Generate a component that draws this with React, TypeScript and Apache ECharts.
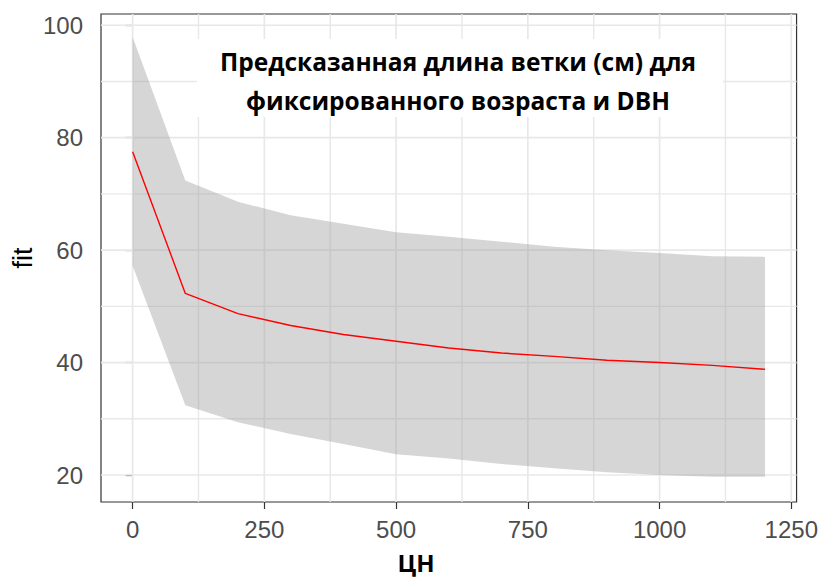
import React, { useEffect, useRef } from "react";
import * as echarts from "echarts";

// Predicted branch length by ЦН, with confidence band
const xValues = [0, 100, 200, 300, 400, 500, 600, 700, 800, 900, 1000, 1100, 1200];
const fitValues = [77.5, 52.3, 48.7, 46.6, 45.0, 43.8, 42.6, 41.7, 41.1, 40.4, 40.0, 39.5, 38.8];
const upperValues = [97.9, 72.4, 68.6, 66.2, 64.7, 63.2, 62.4, 61.5, 60.6, 60.0, 59.5, 58.9, 58.8];
const lowerValues = [57.2, 32.4, 29.4, 27.3, 25.5, 23.7, 22.95, 21.95, 21.2, 20.5, 20.0, 19.7, 19.7];

const xTicks = [0, 250, 500, 750, 1000, 1250];
const xMinor = [125, 375, 625, 875, 1125];
const yTicks = [20, 40, 60, 80, 100];
const yMinor = [30, 50, 70, 90];

const titleLines = ["Предсказанная длина ветки (см) для", "фиксированного возраста и DBH"];
const xTitle = "ЦН";
const yTitle = "fit";

export default function App() {
  const ref = useRef<HTMLDivElement>(null);

  useEffect(() => {
    if (!ref.current) return;
    const chart = echarts.init(ref.current, null, { renderer: "svg" });

    // [direction (0 = vertical, 1 = horizontal), value, line width]
    const gridData = [
      ...xTicks.map((v) => [0, v, 1.7]),
      ...xMinor.map((v) => [0, v, 1.4]),
      ...yTicks.map((v) => [1, v, 1.7]),
      ...yMinor.map((v) => [1, v, 1.4]),
    ];

    const tickLabelStyle = {
      color: "#4D4D4D",
      fontFamily: "Liberation Sans",
      fontSize: 24,
      formatter: (v: number) => String(v),
    };

    const bandData = xValues.map((x, i) => [x, lowerValues[i], upperValues[i]]);

    chart.setOption({
      animation: false,
      grid: {
        left: 101,
        top: 14,
        width: 701,
        height: 488,
        show: true,
        borderColor: "#333333",
        borderWidth: 1.2,
        backgroundColor: "#ffffff",
      },
      xAxis: {
        type: "value",
        min: -60,
        max: 1260,
        axisLine: { show: false },
        splitLine: { show: false },
        axisTick: {
          show: true,
          length: 7,
          customValues: xTicks,
          lineStyle: { color: "#333333", width: 1.2 },
        },
        axisLabel: { ...tickLabelStyle, margin: 15, customValues: xTicks },
      },
      yAxis: {
        type: "value",
        min: 15.2,
        max: 102,
        axisLine: { show: false },
        splitLine: { show: false },
        axisTick: {
          show: true,
          length: 7,
          customValues: yTicks,
          lineStyle: { color: "#333333", width: 1.2 },
        },
        axisLabel: { ...tickLabelStyle, margin: 18, customValues: yTicks },
      },
      series: [
        {
          // panel grid lines, major and minor
          name: "grid",
          type: "custom",
          z: 1,
          silent: true,
          clip: true,
          data: gridData,
          renderItem: (params: any, api: any) => {
            const cs = params.coordSys;
            const dir = api.value(0);
            const v = api.value(1);
            const w = api.value(2);
            let shape;
            if (dir === 0) {
              const px = api.coord([v, 50])[0];
              shape = { x1: px, y1: cs.y, x2: px, y2: cs.y + cs.height };
            } else {
              const py = api.coord([0, v])[1];
              shape = { x1: cs.x, y1: py, x2: cs.x + cs.width, y2: py };
            }
            return {
              type: "line",
              shape,
              style: { stroke: "#E8E8E8", lineWidth: w },
            };
          },
        },
        {
          // confidence ribbon: polygon through upper bounds, back along lower bounds
          name: "band",
          type: "custom",
          z: 2,
          silent: true,
          data: bandData,
          renderItem: (params: any, api: any) => {
            if (params.dataIndex !== 0) return null;
            const top = bandData.map((d) => api.coord([d[0], d[2]]));
            const bottom = bandData.map((d) => api.coord([d[0], d[1]])).reverse();
            return {
              type: "polygon",
              shape: { points: top.concat(bottom) },
              style: { fill: "#999999", opacity: 0.4 },
            };
          },
        },
        {
          name: "fit",
          type: "line",
          z: 3,
          symbol: "none",
          data: xValues.map((x, i) => [x, fitValues[i]]),
          lineStyle: { color: "#FF0000", width: 1.4 },
        },
      ],
      graphic: [
        {
          type: "rect",
          z: 10,
          shape: { x: 197, y: 39, width: 526, height: 78 },
          style: { fill: "#ffffff" },
        },
        {
          type: "text",
          z: 11,
          x: 458,
          y: 61,
          style: {
            text: titleLines[0],
            textAlign: "center",
            textVerticalAlign: "middle",
            font: 'bold 24.5px "Open Sans"',
            fill: "#000000",
          },
        },
        {
          type: "text",
          z: 11,
          x: 458,
          y: 100,
          style: {
            text: titleLines[1],
            textAlign: "center",
            textVerticalAlign: "middle",
            font: 'bold 24.5px "Open Sans"',
            fill: "#000000",
          },
        },
        {
          type: "text",
          z: 11,
          x: 416,
          y: 562,
          style: {
            text: xTitle,
            textAlign: "center",
            textVerticalAlign: "middle",
            font: 'bold 24px "Open Sans"',
            fill: "#000000",
          },
        },
        {
          type: "text",
          z: 11,
          x: 23,
          y: 258,
          rotation: Math.PI / 2,
          style: {
            text: yTitle,
            textAlign: "center",
            textVerticalAlign: "middle",
            font: '27px "Liberation Sans"',
            fill: "#000000",
          },
        },
      ],
    });

    return () => chart.dispose();
  }, []);

  return (
    <div
      ref={ref}
      style={{ position: "fixed", left: 0, top: 0, width: 821, height: 578, background: "#ffffff" }}
    />
  );
}
